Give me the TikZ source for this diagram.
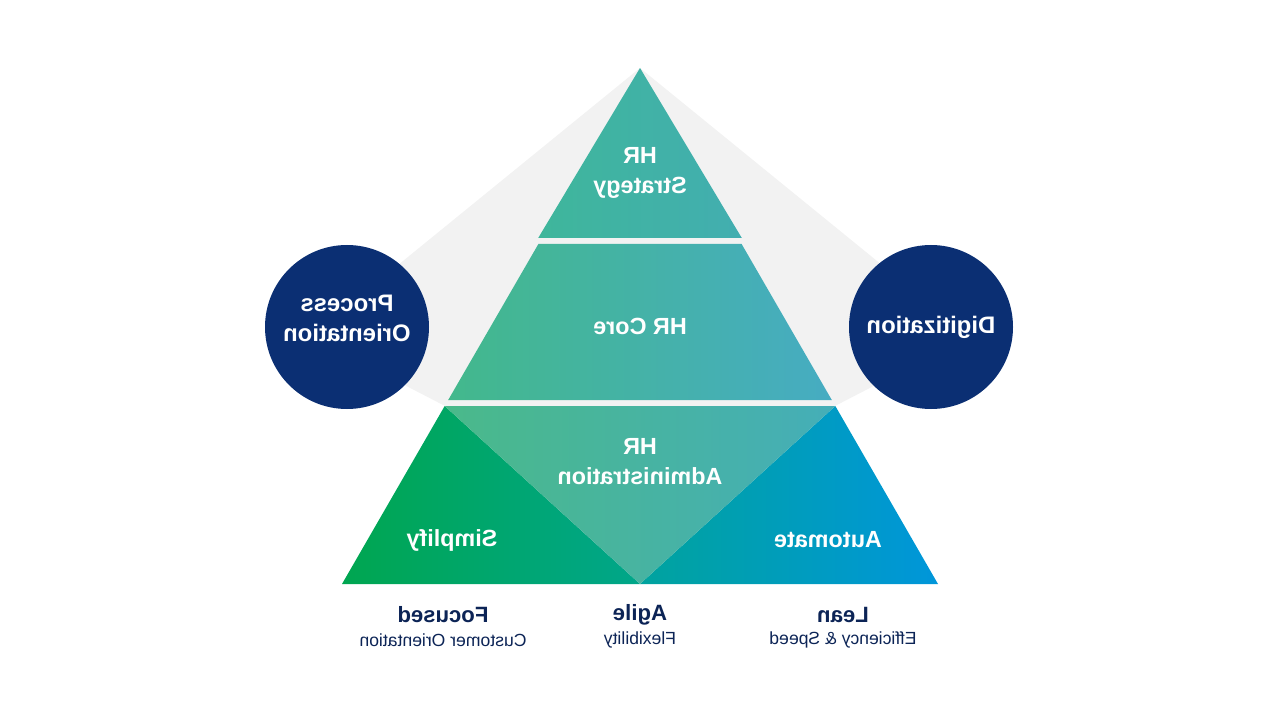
\documentclass[tikz,border=0pt]{standalone}
\usepackage{fontspec}
\setmainfont{Liberation Sans}
\usepackage{xcolor}
\usetikzlibrary{positioning}

\definecolor{navy}{HTML}{0B2F73}
\definecolor{ink}{HTML}{0C2456}
\definecolor{backgrey}{HTML}{F2F2F2}
\definecolor{tealA}{HTML}{3FB69B}
\definecolor{tealB}{HTML}{42AEB0}
\definecolor{midA}{HTML}{43B88C}
\definecolor{midB}{HTML}{46ACC2}
\definecolor{invA}{HTML}{4AB98A}
\definecolor{invB}{HTML}{45AEB8}
\definecolor{greenA}{HTML}{00A650}
\definecolor{greenB}{HTML}{00A68A}
\definecolor{blueA}{HTML}{00A39E}
\definecolor{blueB}{HTML}{0096DA}

\begin{document}
\begin{tikzpicture}[
    x=0.2mm, y=-0.2mm,
    mirrored/.style={xscale=-1},
    layerText/.style={
        mirrored,
        text=white,
        font=\fontsize{13.3}{17}\selectfont\bfseries,
        align=center
    },
    hub/.style={
        mirrored,
        circle,
        fill=navy,
        minimum size=32.8mm,
        inner sep=0pt
    },
    hubText/.style={
        mirrored,
        text=white,
        font=\fontsize{13.6}{17}\selectfont\bfseries,
        align=center
    },
    pillarTitle/.style={
        mirrored,
        text=ink,
        font=\fontsize{12.6}{15}\selectfont\bfseries
    },
    pillarSub/.style={
        mirrored,
        text=ink,
        font=\fontsize{10}{12}\selectfont
    }
]
\useasboundingbox (0,0) rectangle (1280,720);

% Grey backdrop
\fill[backgrey] (640,68) -- (360,296) -- (360,362) -- (445,406)
    -- (835,406) -- (920,362) -- (920,296) -- cycle;

% Pyramid layers
\shade[left color=tealA, right color=tealB]
    (640,68) -- (741.8,238) -- (538.2,238) -- cycle;
\shade[left color=midA, right color=midB]
    (538.4,244) -- (741.6,244) -- (831.8,400) -- (448.2,400) -- cycle;
\shade[left color=greenA, right color=greenB]
    (444.7,406) -- (640,584) -- (342,584) -- cycle;
\shade[left color=blueA, right color=blueB]
    (835.3,406) -- (938,584) -- (640,584) -- cycle;
\shade[left color=invA, right color=invB]
    (444.7,406) -- (835.3,406) -- (640,584) -- cycle;

% Layer labels
\node[layerText] (strategy) at (640,173) {HR\\Strategy};
\node[layerText] (core)     at (640,326) {HR Core};
\node[layerText] (admin)    at (640,462) {HR\\Administration};
\node[layerText] (simplify) at (452,540) {Simplify};
\node[layerText] (automate) at (828,540) {Automate};

% Side circles
\node[hub] (process) at (347,327) {};
\node[hubText] at ([yshift=1.8mm]process.center) {Process\\Orientation};
\node[hub] (digital) at (931,327) {};
\node[hubText] at (digital.center) {Digitization};

% Pillars below
\node[pillarTitle] (focused)  at (443,615) {Focused};
\node[pillarSub]   (customer) at (443,640) {Customer Orientation};
\node[pillarTitle] (agile)    at (640,615) {Agile};
\node[pillarSub]   (flex)     at (640,640) {Flexibility};
\node[pillarTitle] (lean)     at (843,615) {Lean};
\node[pillarSub]   (speed)    at (843,640) {Efficiency \& Speed};

\end{tikzpicture}
\end{document}
